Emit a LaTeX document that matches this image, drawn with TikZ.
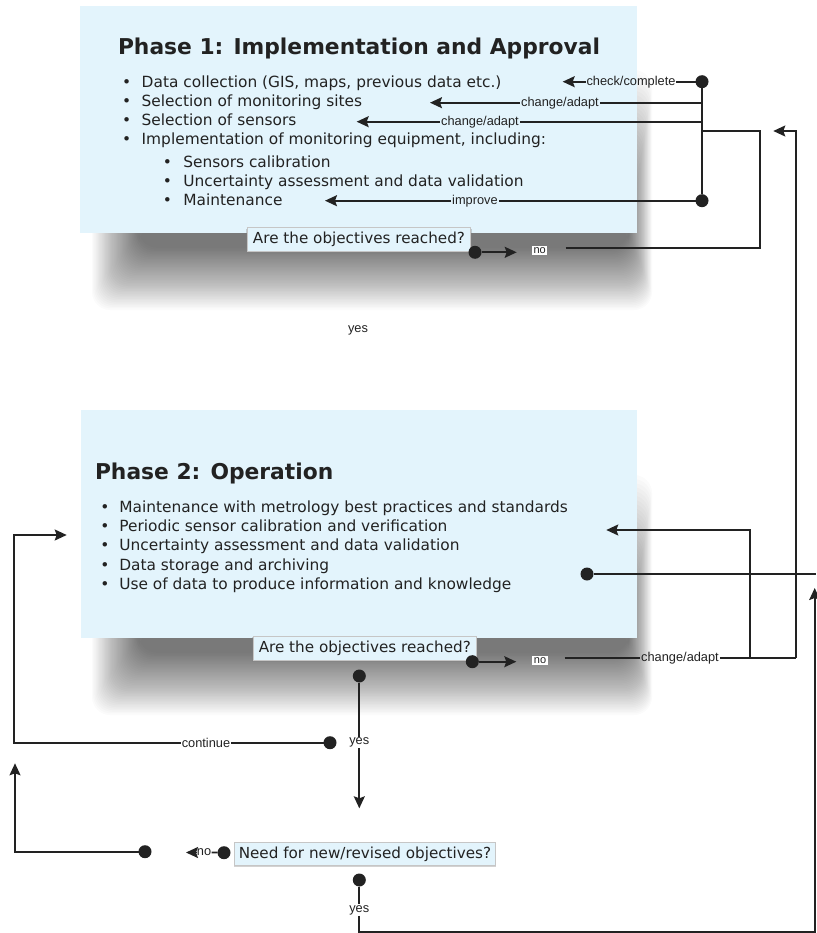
\documentclass[tikz,border=0pt]{standalone}
\usepackage{fontspec}
\setmainfont{DejaVu Sans}
\newfontfamily\labfont{Liberation Sans}
\usetikzlibrary{arrows.meta}
\definecolor{boxblue}{HTML}{E3F4FC}
\definecolor{ink}{HTML}{222222}
\begin{document}
\begin{tikzpicture}[x=1pt,y=-1pt,
  every node/.style={inner sep=0pt, outer sep=0pt, text=ink},
  body/.style={font=\fontsize{15.4}{15.4}\selectfont, anchor=base west},
  head/.style={font=\fontsize{21.8}{21.8}\selectfont\bfseries, anchor=base west},
  blt/.style={font=\fontsize{15.4}{15.4}\selectfont, anchor=base},
  lbl/.style={font=\labfont\fontsize{12.8}{12.8}\selectfont, inner xsep=1pt, inner ysep=1pt},
  nolbl/.style={font=\labfont\fontsize{11}{11}\selectfont, fill=white, inner sep=1.5pt},
  dot/.style={circle, fill=ink, minimum size=13pt},
  conn/.style={draw=ink, line width=1.7pt},
  arr/.style={conn, -{Stealth[length=12pt,width=11pt,inset=2pt]}},
  quest/.style={fill=boxblue, draw=gray!45, line width=0.8pt, font=\fontsize{15.2}{15.2}\selectfont},
  qshadow/.style={fill=gray, opacity=0.35},
  phasebox/.style={fill=boxblue},
  softshade/.style={fill=black, opacity=0.017, rounded corners=18pt},
]
\useasboundingbox (0,0) rectangle (816,933);
\fill[white] (0,0) rectangle (816,933);

% ---------- shadows ----------
\foreach \k in {0,...,39}{
  \path[softshade] ({92+\k*1.2},{70+\k*4}) rectangle ({652-\k*0.6},{310-\k*1.6});
  \path[softshade] ({92+\k*1.2},{475+\k*4}) rectangle ({652-\k*0.6},{715-\k*1.6});
}

% ---------- Phase 1 ----------
\path[phasebox] (80,6) rectangle (637,233);
\node[head] (h1) at (118,55) {Phase 1: Implementation and Approval};
\node[blt] (b11) at (126.7,87.7) {•};
\node[body] (l11) at (141.7,87.7) {Data collection (GIS, maps, previous data etc.)};
\node[blt] (b12) at (126.7,106.7) {•};
\node[body] (l12) at (141.7,106.7) {Selection of monitoring sites};
\node[blt] (b13) at (126.7,126) {•};
\node[body] (l13) at (141.7,126) {Selection of sensors};
\node[blt] (b14) at (126.7,145) {•};
\node[body] (l14) at (141.7,145) {Implementation of monitoring equipment, including:};
\node[blt] (b15) at (167.3,167.3) {•};
\node[body] (l15) at (183.3,167.3) {Sensors calibration};
\node[blt] (b16) at (167.3,186.7) {•};
\node[body] (l16) at (183.3,186.7) {Uncertainty assessment and data validation};
\node[blt] (b17) at (167.3,205.7) {•};
\node[body] (l17) at (183.3,205.7) {Maintenance};

\path[qshadow] (246.3,228.7) rectangle (471.7,253.7);
\node[quest, minimum width=223.4pt, minimum height=24pt] (q1) at (359,239.7) {Are the objectives reached?};

% feedback arrows phase 1
\node[dot] (d1) at (702,81.7) {};
\node[dot] (d2) at (702,200.7) {};
\draw[conn] (d1) -- (d2);
\node[lbl] (lc1) at (631,81.7) {check/complete};
\coordinate (t1) at (562.7,81.7);
\draw[conn] (d1) -- (lc1.east);
\draw[arr] (lc1.west) -- (t1);
\coordinate (b2) at (702,102.7);
\node[lbl] (lc2) at (560,102.7) {change/adapt};
\coordinate (t2) at (430,102.7);
\draw[conn] (b2) -- (lc2.east);
\draw[arr] (lc2.west) -- (t2);
\coordinate (b3) at (702,121.7);
\node[lbl] (lc3) at (480,121.7) {change/adapt};
\coordinate (t3) at (356.7,121.7);
\draw[conn] (b3) -- (lc3.east);
\draw[arr] (lc3.west) -- (t3);
\node[lbl] (lc4) at (475,200.7) {improve};
\coordinate (t4) at (325,200.7);
\draw[conn] (d2) -- (lc4.east);
\draw[arr] (lc4.west) -- (t4);

\node[dot] (d3) at (475,252.3) {};
\coordinate (t5) at (516.7,252.3);
\draw[arr] (d3) -- (t5);
\node[nolbl] (n1) at (539.7,250.5) {no};
\coordinate (c1) at (565.7,248.3);
\coordinate (c2) at (760,248.3);
\coordinate (c3) at (760,131);
\coordinate (c4) at (702,131);
\draw[conn] (c1) -- (c2) -- (c3) -- (c4);

\node[lbl] (y1) at (358,330) {yes};

% ---------- Phase 2 ----------
\path[phasebox] (81,410) rectangle (637,638);
\node[head] (h2) at (95,479) {Phase 2: Operation};
\node[blt] (b21) at (105,512.7) {•};
\node[body] (l21) at (119.3,512.7) {Maintenance with metrology best practices and standards};
\node[blt] (b22) at (105,531.7) {•};
\node[body] (l22) at (119.3,531.7) {Periodic sensor calibration and verification};
\node[blt] (b23) at (105,550.7) {•};
\node[body] (l23) at (119.3,550.7) {Uncertainty assessment and data validation};
\node[blt] (b24) at (105,570) {•};
\node[body] (l24) at (119.3,570) {Data storage and archiving};
\node[blt] (b25) at (105,589) {•};
\node[body] (l25) at (119.3,589) {Use of data to produce information and knowledge};

\path[qshadow] (252.3,637) rectangle (477.3,662);
\node[quest, minimum width=223pt, minimum height=24pt] (q2) at (364.8,648) {Are the objectives reached?};

\node[dot] (d4) at (472.3,661.7) {};
\coordinate (t6) at (516.3,661.7);
\draw[arr] (d4) -- (t6);
\node[nolbl] (n2) at (540,660.5) {no};
\coordinate (c5) at (564.7,658.3);
\node[lbl] (lc5) at (680,658.3) {change/adapt};
\coordinate (c6) at (749.7,658.3);
\coordinate (c7) at (796,658.3);
\coordinate (c8) at (796,131);
\coordinate (t7) at (773.3,131);
\draw[conn] (c5) -- (lc5.west);
\draw[conn] (lc5.east) -- (c7);
\draw[arr] (c7) -- (c8) -- (t7);
\coordinate (c9) at (749.7,530);
\coordinate (t8) at (606.3,530);
\draw[arr] (c6) -- (c9) -- (t8);
\node[dot] (d5) at (587,574) {};
\coordinate (c10) at (816,574);
\draw[conn] (d5) -- (c10);

% yes path
\node[dot] (d6) at (359.3,676) {};
\node[lbl] (y2) at (359.3,742.7) {yes};
\coordinate (t9) at (359.3,808.3);
\draw[conn] (d6) -- (y2.north);
\draw[arr] (y2.south) -- (t9);

% continue loop
\node[dot] (d7) at (330,742.7) {};
\node[lbl] (lc6) at (206,742.7) {continue};
\coordinate (c11) at (14,742.7);
\coordinate (c12) at (14,535);
\coordinate (t10) at (66.7,535);
\draw[conn] (d7) -- (lc6.east);
\draw[arr] (lc6.west) -- (c11) -- (c12) -- (t10);

% ---------- new objectives ----------
\path[qshadow] (234,842) rectangle (496.3,866.5);
\node[quest, minimum width=260.3pt, minimum height=22.3pt] (q3) at (365,854) {Need for new/revised objectives?};

\node[dot] (d9) at (224,852.7) {};
\node[lbl, inner xsep=0.5pt] (n3) at (204,852.5) {no};
\coordinate (t11) at (186,852.5);
\draw[conn] (d9) -- (n3.east);
\draw[arr] (n3.west) -- (t11);

\node[dot] (d8) at (145,851.7) {};
\coordinate (c13) at (15,851.7);
\coordinate (t12) at (15,763.3);
\draw[arr] (d8) -- (c13) -- (t12);

\node[dot] (d10) at (359.3,880) {};
\node[lbl] (y3) at (359.3,910) {yes};
\coordinate (c14) at (359.3,931.7);
\coordinate (c15) at (814.7,931.7);
\coordinate (t13) at (814.7,588);
\draw[conn] (d10) -- (y3.north);
\draw[arr] (y3.south) -- (c14) -- (c15) -- (t13);
\end{tikzpicture}
\end{document}
